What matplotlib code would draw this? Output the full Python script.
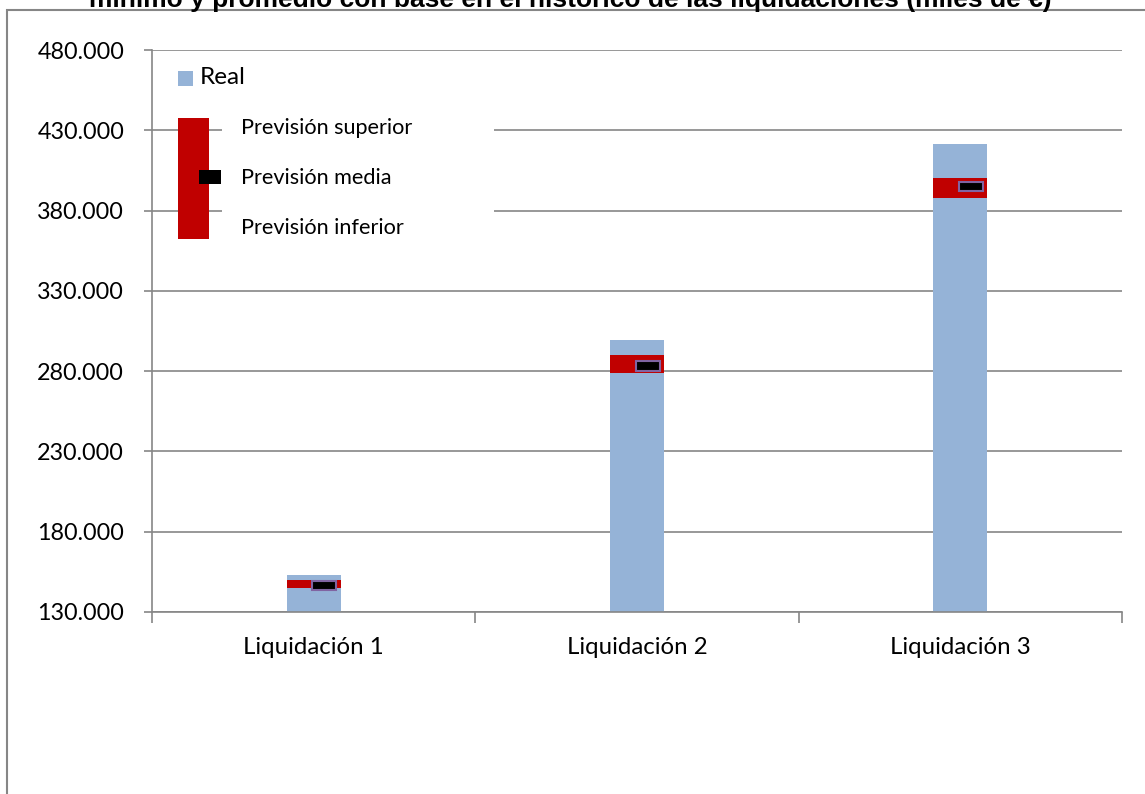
import matplotlib
matplotlib.use("Agg")
import matplotlib.pyplot as plt
from matplotlib.patches import Rectangle
from matplotlib.ticker import FuncFormatter

# Data ---------------------------------------------
categories = ["Liquidación 1", "Liquidación 2", "Liquidación 3"]
real = [153200, 299500, 421500]
prevision_superior = [150000, 290000, 400500]
prevision_inferior = [145000, 279000, 388000]
prevision_media = [146500, 283500, 395000]
yticks = [130000, 180000, 230000, 280000, 330000, 380000, 430000, 480000]

title_line = "mínimo y promedio con base en el histórico de las liquidaciones (miles de €)"

# Styles -------------------------------------------
W, H = 1145, 794
BLUE = "#95B3D7"
RED = "#C00000"
PURPLE = "#8064A2"
GRID = "#868686"
FONT = "Lato"

plt.rcParams["font.family"] = [FONT, "DejaVu Sans"]


def px(x, y):
    """pixel position in the reference -> figure fraction"""
    return x / W, 1 - y / H


fig = plt.figure(figsize=(W / 100, H / 100), dpi=100)
ax = fig.add_axes([152 / W, 1 - 612 / H, (1122 - 152) / W, (612 - 50) / H])

x = list(range(len(categories)))
bar_w = 0.167

ax.bar(x, real, width=bar_w, color=BLUE, zorder=2)
band = [s - i for s, i in zip(prevision_superior, prevision_inferior)]
ax.bar(x, band, bottom=prevision_inferior, width=bar_w, color=RED, zorder=3)

mark_h = 6200
ax.bar([v + 0.033 for v in x], [mark_h] * len(x),
       bottom=[m - mark_h / 2 for m in prevision_media],
       width=0.074, color="black", edgecolor=PURPLE, linewidth=1.5, zorder=4)

# Axes ---------------------------------------------
ax.set_xlim(-0.5, 2.5)
ax.set_ylim(130000, 480000)
ax.set_yticks(yticks)
ax.yaxis.set_major_formatter(FuncFormatter(lambda v, _: f"{int(v):,}".replace(",", ".")))
ax.grid(axis="y", color=GRID, linewidth=1.2, zorder=0)
ax.set_axisbelow(True)

ax.set_xticks([-0.5, 0.5, 1.5, 2.5])
ax.set_xticklabels([])
ax.set_xticks(x, minor=True)
ax.set_xticklabels(categories, minor=True, fontsize=17.3)
ax.tick_params(axis="x", which="major", length=8, width=1.2, color=GRID, direction="out")
ax.tick_params(axis="x", which="minor", length=0, pad=18)
ax.tick_params(axis="y", length=6, width=1.2, color=GRID, pad=14, labelsize=16.8)

for side in ["top", "right"]:
    ax.spines[side].set_visible(False)
for side in ["left", "bottom"]:
    ax.spines[side].set_color(GRID)
    ax.spines[side].set_linewidth(1.2)

# Legend (drawn by hand, as in the source) ----------
fig.patches.append(Rectangle(px(222, 250), (494 - 222) / W, (250 - 105) / H,
                             transform=fig.transFigure, facecolor="white",
                             edgecolor="none", zorder=5))
fig.patches.append(Rectangle(px(178, 86), 15 / W, 15 / H, transform=fig.transFigure,
                             facecolor=BLUE, edgecolor="none", zorder=6))
fig.text(*px(200, 78), "Real", fontsize=17.5, va="center", ha="left", zorder=7)
fig.patches.append(Rectangle(px(178, 239), 31 / W, 121 / H, transform=fig.transFigure,
                             facecolor=RED, edgecolor="none", zorder=6))
fig.patches.append(Rectangle(px(199, 184), 22 / W, 14 / H, transform=fig.transFigure,
                             facecolor="black", edgecolor="none", zorder=7))
for label, yy in [("Previsión superior", 128), ("Previsión media", 178),
                  ("Previsión inferior", 228)]:
    fig.text(*px(241, yy), label, fontsize=15.6, va="center", ha="left", zorder=7)

# Outer frame and cut-off title ----------------------
fig.patches.append(Rectangle(px(7, 800), 1.0, (800 - 10) / H, transform=fig.transFigure,
                             facecolor="none", edgecolor=GRID, linewidth=1.5, zorder=1))
fig.text(*px(570, 7), title_line, fontsize=19, fontweight="bold",
         family="Liberation Sans", ha="center", va="baseline")

fig.savefig("out.png", dpi=100)
